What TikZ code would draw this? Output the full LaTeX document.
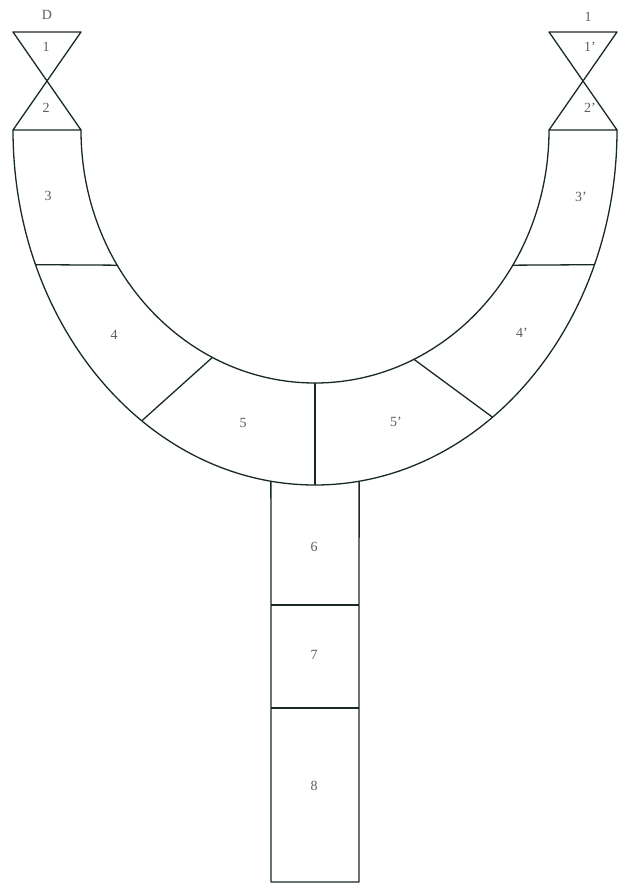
\documentclass[tikz,border=0pt]{standalone}
\usepackage{fontspec}
\setmainfont{Liberation Serif}
\usetikzlibrary{calc}
\begin{document}
\begin{tikzpicture}[x=1pt,y=-1pt,
  ln/.style={draw={rgb,255:red,25;green,40;blue,40},line width=1.3pt,line join=round},
  lbl/.style={text={rgb,255:red,90;green,95;blue,95},font=\fontsize{14}{14}\selectfont,inner sep=0pt}]
\useasboundingbox (0,0) rectangle (620,885);
\coordinate (c) at (315,130);
% hourglasses
\coordinate (lt1) at (13,32); \coordinate (lt2) at (81,32);
\coordinate (lb1) at (13,130); \coordinate (lb2) at (81,130);
\coordinate (rt1) at (549,32); \coordinate (rt2) at (617,32);
\coordinate (rb1) at (549,130); \coordinate (rb2) at (617,130);
\draw[ln] (lt1) -- (lt2) -- (lb1) -- (lb2) -- cycle;
\draw[ln] (rt1) -- (rt2) -- (rb1) -- (rb2) -- cycle;
% U shape
\draw[ln] (lb1) arc[start angle=180,end angle=0,x radius=302,y radius=355];
\draw[ln] (lb2) arc[start angle=180,end angle=0,x radius=234,y radius=253];
% dividers
\draw[ln] ($(c)+(147.7:234 and 253)$) -- ($(c)+(157.7:302 and 355)$);
\draw[ln] ($(c)+(32.3:234 and 253)$) -- ($(c)+(22.3:302 and 355)$);
\draw[ln] ($(c)+(116:234 and 253)$) -- ($(c)+(125:302 and 355)$);
\draw[ln] ($(c)+(65:234 and 253)$) -- ($(c)+(54:302 and 355)$);
\draw[ln] ($(c)+(90:234 and 253)$) -- ($(c)+(90:302 and 355)$);
% stem
\coordinate (sl) at ($(c)+(98.4:302 and 355)$);
\coordinate (sr) at ($(c)+(81.6:302 and 355)$);
\coordinate (sbl) at (271,882); \coordinate (sbr) at (359,882);
\draw[ln] (sl) -- (sbl) -- (sbr) -- (sr);
\draw[ln] (271,605) -- (359,605);
\draw[ln] (271,708) -- (359,708);
% labels
\node[lbl] (lD) at (47,15) {D};
\node[lbl] (l1) at (46,47) {1};
\node[lbl] (l2) at (46,108) {2};
\node[lbl] (lI) at (588,17) {1};
\node[lbl] (l1p) at (590,47) {1'};
\node[lbl] (l2p) at (590,108) {2'};
\node[lbl] (l3) at (48,196) {3};
\node[lbl] (l3p) at (581,197) {3'};
\node[lbl] (l4) at (114,335) {4};
\node[lbl] (l4p) at (522,333) {4'};
\node[lbl] (l5) at (243,423) {5};
\node[lbl] (l5p) at (396,422) {5'};
\node[lbl] (l6) at (314,547) {6};
\node[lbl] (l7) at (314,655) {7};
\node[lbl] (l8) at (314,786) {8};
\end{tikzpicture}
\end{document}
